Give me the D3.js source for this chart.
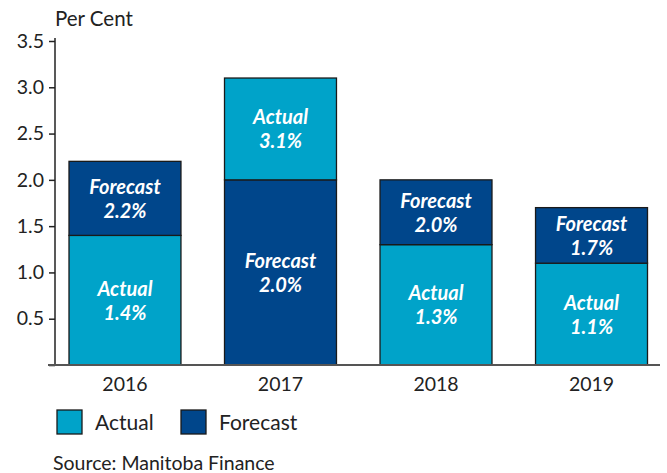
<!DOCTYPE html>
<html>
<head>
<meta charset="utf-8">
<script src="https://cdn.jsdelivr.net/npm/d3@7"></script>
<style>
  body { margin: 0; background: #fff; }
  text { font-family: Lato, "Open Sans", sans-serif; }
  .axis text { font-size: 19.5px; fill: #222; }
  .seg-label { font-size: 20px; font-weight: bold; font-style: italic; fill: #fff; }
</style>
</head>
<body>
<script>
// Chart data
var years = ["2016", "2017", "2018", "2019"];
var actual = [1.4, 3.1, 1.3, 1.1];
var forecast = [2.2, 2.0, 2.0, 1.7];
var yTicks = [0.5, 1.0, 1.5, 2.0, 2.5, 3.0, 3.5];

var colors = {Actual: "#00a3c9", Forecast: "#00468b"};

// Set the dimensions
var margin = {top: 41, right: 20, bottom: 108, left: 55},
    width = 667 - margin.left - margin.right,
    height = 473 - margin.top - margin.bottom;

var svg = d3.select("body")
    .append("svg")
        .attr("width", 667)
        .attr("height", 473);

var g = svg.append("g")
    .attr("transform", "translate(" + margin.left + "," + margin.top + ")");

var x = d3.scaleBand().domain(years).range([0, 606.5]).paddingInner(0.28).paddingOuter(0.09);
var y = d3.scaleLinear().domain([0, 3.5]).range([height, 0]);

// build the two stacked segments per year: the smaller value sits at the bottom
var segments = [];
years.forEach(function(yr, i) {
    var a = {type: "Actual", value: actual[i]},
        f = {type: "Forecast", value: forecast[i]};
    var lo = a.value <= f.value ? a : f,
        hi = lo === a ? f : a;
    segments.push({year: yr, type: lo.type, value: lo.value, y0: 0, y1: lo.value});
    segments.push({year: yr, type: hi.type, value: hi.value, y0: lo.value, y1: hi.value});
});

// Y axis
var yAxis = d3.axisLeft(y).tickValues([0].concat(yTicks)).tickSize(6).tickPadding(5)
    .tickFormat(function(d) { return d === 0 ? "" : d3.format(".1f")(d); });

var ya = g.append("g")
    .attr("class", "axis")
    .call(yAxis);
ya.select(".domain").attr("d", "M0," + (y(3.5) - 3) + "V" + height).attr("stroke", "#222").attr("stroke-width", 1.5);
ya.selectAll(".tick line").attr("stroke", "#222").attr("stroke-width", 1.5);

// Bars
g.selectAll("rect.seg")
    .data(segments)
  .enter().append("rect")
    .attr("class", "seg")
    .attr("x", function(d) { return x(d.year); })
    .attr("width", x.bandwidth())
    .attr("y", function(d) { return y(d.y1); })
    .attr("height", function(d) { return y(d.y0) - y(d.y1); })
    .attr("fill", function(d) { return colors[d.type]; })
    .attr("stroke", "#1a1a1a")
    .attr("stroke-width", 1.3);

// Segment labels
var labels = g.selectAll("g.lab")
    .data(segments)
  .enter().append("g")
    .attr("class", "lab")
    .attr("transform", function(d) {
        return "translate(" + (x(d.year) + x.bandwidth() / 2) + "," + ((y(d.y0) + y(d.y1)) / 2) + ")";
    });

labels.append("text")
    .attr("class", "seg-label")
    .attr("text-anchor", "middle")
    .attr("y", -4.5)
    .text(function(d) { return d.type; });

labels.append("text")
    .attr("class", "seg-label")
    .attr("text-anchor", "middle")
    .attr("y", 19.5)
    .text(function(d) { return d3.format(".1f")(d.value) + "%"; });

// X axis baseline
var xAxis = d3.axisBottom(x).tickSize(0).tickPadding(12);
var xa = g.append("g")
    .attr("class", "axis")
    .attr("transform", "translate(0," + height + ")")
    .call(xAxis);
xa.select(".domain").attr("d", "M-7,0H605").attr("stroke", "#555").attr("stroke-width", 2);

// y label
svg.append("text")
    .attr("x", 55)
    .attr("y", 26)
    .style("font-size", "20.5px")
    .style("fill", "#222")
    .text("Per Cent");

// Legend
var legend = svg.append("g").attr("transform", "translate(57,410)");
var legItems = ["Actual", "Forecast"];
var leg = legend.selectAll("g")
    .data(legItems)
  .enter().append("g")
    .attr("transform", function(d, i) { return "translate(" + (i * 124) + ",0)"; });
leg.append("rect")
    .attr("width", 25)
    .attr("height", 24)
    .attr("fill", function(d) { return colors[d]; })
    .attr("stroke", "#1a1a1a")
    .attr("stroke-width", 1.3);
leg.append("text")
    .attr("x", 38)
    .attr("y", 20)
    .style("font-size", "21px")
    .style("fill", "#222")
    .text(function(d) { return d; });

// Source
svg.append("text")
    .attr("x", 53)
    .attr("y", 470)
    .style("font-size", "19.5px")
    .style("fill", "#222")
    .text("Source: Manitoba Finance");
</script>
</body>
</html>
